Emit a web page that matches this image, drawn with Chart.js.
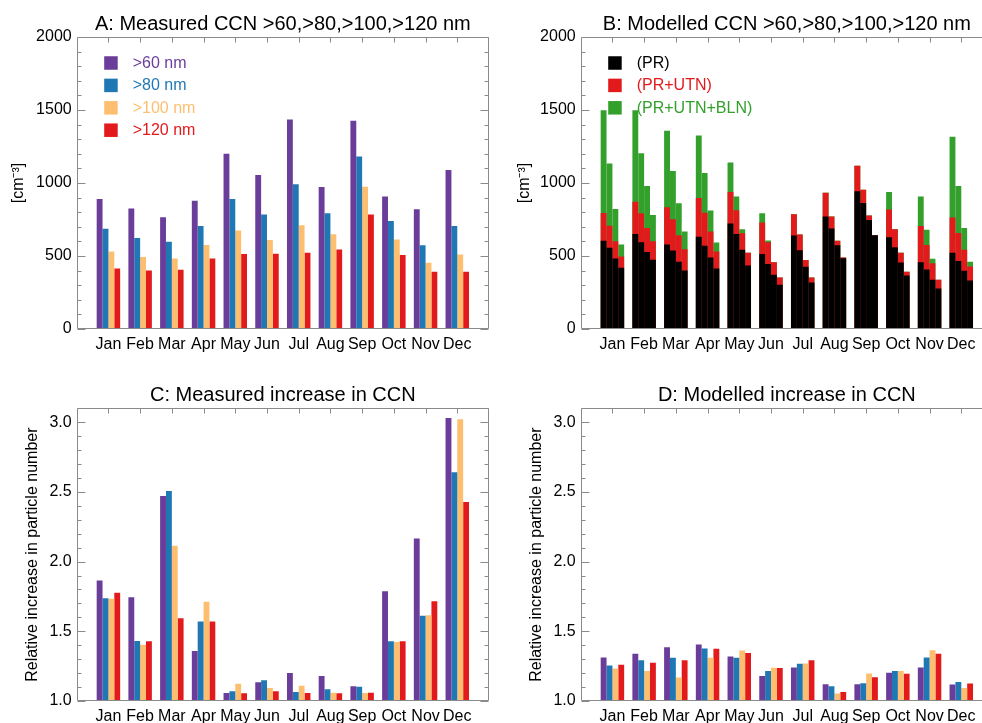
<!DOCTYPE html>
<html>
<head>
<meta charset="utf-8">
<script src="https://cdn.jsdelivr.net/npm/chart.js@4/dist/chart.umd.min.js"></script>
<style>
html, body { margin: 0; padding: 0; background: #ffffff; overflow: hidden; width: 982px; height: 723px; }
canvas { position: absolute; }
</style>
</head>
<body>
<canvas id="cA" width="500" height="361" style="left:0px;top:0px"></canvas>
<canvas id="cB" width="530" height="361" style="left:491px;top:0px"></canvas>
<canvas id="cC" width="500" height="372" style="left:0px;top:361px"></canvas>
<canvas id="cD" width="530" height="372" style="left:491px;top:361px"></canvas>
<script>
// ---------- categories ----------
const months = ['Jan', 'Feb', 'Mar', 'Apr', 'May', 'Jun', 'Jul', 'Aug', 'Sep', 'Oct', 'Nov', 'Dec'];
const axisLabels = [''].concat(months, ['']);
const sizeClasses = ['>60 nm', '>80 nm', '>100 nm', '>120 nm'];
const modelStages = ['(PR)', '(PR+UTN)', '(PR+UTN+BLN)'];

// ---------- A: measured CCN [cm-3] ----------
const measured60  = [891, 825, 765, 879, 1200, 1055, 1435, 973, 1426, 907, 820, 1089];
const measured80  = [686, 624, 597, 706, 891, 784, 991, 793, 1182, 740, 574, 706];
const measured100 = [531, 494, 483, 576, 674, 610, 711, 649, 975, 613, 453, 510];
const measured120 = [415, 401, 405, 483, 513, 515, 522, 544, 784, 506, 392, 392];

// ---------- B: modelled CCN [cm-3], cumulative totals ----------
const modelPR60   = [604, 651, 579, 631, 722, 513, 640, 770, 943, 629, 458, 522];
const modelPR80   = [556, 595, 538, 570, 651, 446, 540, 688, 863, 560, 408, 465];
const modelPR100  = [483, 528, 460, 490, 542, 371, 426, 574, 747, 456, 337, 399];
const modelPR120  = [419, 474, 401, 415, 435, 303, 319, 485, 642, 367, 278, 333];
const modelUTN60  = [795, 872, 834, 898, 939, 729, 786, 934, 1118, 818, 706, 763];
const modelUTN80  = [708, 793, 752, 797, 813, 595, 647, 770, 954, 683, 576, 658];
const modelUTN100 = [601, 692, 642, 667, 656, 458, 472, 604, 777, 522, 451, 542];
const modelUTN120 = [497, 601, 547, 531, 522, 353, 353, 490, 642, 392, 337, 428];
const modelBLN60  = [1499, 1499, 1358, 1326, 1141, 793, 786, 934, 1118, 939, 907, 1317];
const modelBLN80  = [1134, 1203, 1082, 1068, 907, 606, 647, 770, 954, 683, 679, 980];
const modelBLN100 = [822, 980, 861, 811, 683, 458, 472, 604, 777, 522, 481, 692];
const modelBLN120 = [579, 781, 667, 592, 522, 353, 353, 490, 642, 392, 337, 460];

// ---------- C: measured relative increase ----------
const measInc60  = [1.865, 1.745, 2.471, 1.358, 1.058, 1.135, 1.200, 1.180, 1.106, 1.788, 2.166, 3.031];
const measInc80  = [1.738, 1.430, 2.507, 1.570, 1.070, 1.149, 1.065, 1.084, 1.103, 1.428, 1.611, 2.642];
const measInc100 = [1.733, 1.404, 2.113, 1.712, 1.123, 1.094, 1.110, 1.060, 1.058, 1.423, 1.615, 3.022];
const measInc120 = [1.776, 1.428, 1.594, 1.570, 1.055, 1.070, 1.058, 1.055, 1.060, 1.428, 1.716, 2.428];

// ---------- D: modelled relative increase ----------
const modInc60  = [1.312, 1.339, 1.385, 1.406, 1.320, 1.180, 1.240, 1.120, 1.120, 1.202, 1.240, 1.118];
const modInc80  = [1.255, 1.293, 1.310, 1.377, 1.310, 1.216, 1.267, 1.106, 1.127, 1.216, 1.312, 1.137];
const modInc100 = [1.233, 1.216, 1.168, 1.310, 1.363, 1.238, 1.269, 1.053, 1.197, 1.216, 1.365, 1.094];
const modInc120 = [1.260, 1.274, 1.293, 1.375, 1.344, 1.236, 1.293, 1.065, 1.171, 1.195, 1.339, 1.125];

// ---------- styles ----------
const PURPLE = '#6a3d9a', BLUE = '#1f78b4', ORANGE = '#fdbf6f', RED = '#e31a1c', GREEN = '#33a02c', BLACK = '#000000';
const FRAME = '#8a8a8a';
const FONT = '"Liberation Sans", Arial, Helvetica, sans-serif';
const sizeColors = [PURPLE, BLUE, ORANGE, RED];
const stageColors = [BLACK, RED, GREEN];

Chart.defaults.font.family = FONT;
Chart.defaults.font.size = 16;
Chart.defaults.color = '#000000';

function series(arr) { return arr.map((v, i) => ({ x: months[i], y: v })); }

function sizeDatasets(arrs) {
  return arrs.map((arr, k) => ({ label: sizeClasses[k], data: series(arr), backgroundColor: sizeColors[k], borderWidth: 0 }));
}

const panelPlugin = {
  id: 'panel',
  afterDraw(chart, args, o) {
    const ctx = chart.ctx, a = chart.chartArea, xs = chart.scales.x, ys = chart.scales.y;
    const L = Math.round(a.left) + 0.5, R = Math.round(a.right) - 0.5;
    const T = Math.round(a.top) + 0.5, B = Math.round(a.bottom) - 0.5;
    ctx.save();
    ctx.strokeStyle = FRAME;
    ctx.lineWidth = 1;
    ctx.beginPath();
    ctx.rect(L, T, R - L, B - T);
    const n = Math.round((ys.max - ys.min) / o.minorStep);
    for (let k = 0; k <= n; k++) {
      const v = ys.min + k * o.minorStep;
      const r = v / o.majorStep;
      const len = Math.abs(r - Math.round(r)) < 1e-6 ? 8 : 4;
      const py = Math.round(ys.getPixelForValue(v)) + 0.5;
      ctx.moveTo(L, py); ctx.lineTo(L + len, py);
      ctx.moveTo(R, py); ctx.lineTo(R - len, py);
    }
    months.forEach((m) => {
      const px = Math.round(xs.getPixelForValue(axisLabels.indexOf(m))) + 0.5;
      ctx.moveTo(px, T); ctx.lineTo(px, T + 5);
    });
    ctx.stroke();
    // panel title
    ctx.fillStyle = '#000000';
    ctx.font = '20px ' + FONT;
    ctx.textAlign = 'center';
    ctx.textBaseline = 'alphabetic';
    ctx.fillText(o.title, (a.left + a.right) / 2, a.top - 7.5);
    // legend inside plot
    if (o.legend) {
      ctx.font = '16px ' + FONT;
      ctx.textAlign = 'left';
      ctx.textBaseline = 'middle';
      o.legend.forEach((it, k) => {
        const cy = a.top + 26 + k * 22.4;
        ctx.fillStyle = it.color;
        ctx.fillRect(a.left + 27.5, cy - 6.75, 13.5, 13.5);
        ctx.fillText(it.text, a.left + 56, cy + 0.5);
      });
    }
    ctx.restore();
  }
};

function makeChart(id, cfg) {
  return new Chart(document.getElementById(id), {
    type: 'bar',
    data: { labels: axisLabels, datasets: cfg.datasets },
    options: {
      responsive: false,
      animation: false,
      devicePixelRatio: 1,
      layout: { padding: cfg.padding },
      datasets: { bar: { categoryPercentage: 0.74, barPercentage: 1.0, borderWidth: 0 } },
      plugins: {
        legend: { display: false },
        tooltip: { enabled: false },
        title: { display: false },
        panel: { title: cfg.title, legend: cfg.legend, majorStep: cfg.step, minorStep: cfg.minor }
      },
      scales: {
        x: {
          type: 'category',
          offset: false,
          grid: { display: false, drawTicks: false },
          border: { display: false },
          ticks: { autoSkip: false, maxRotation: 0, minRotation: 0, padding: 6, font: { size: 16 } },
          afterFit: (s) => { s.height = cfg.xHeight; }
        },
        y: {
          type: 'linear',
          min: cfg.min,
          max: cfg.max,
          stacked: false,
          grid: { display: false, drawTicks: false },
          border: { display: false },
          ticks: {
            stepSize: cfg.step,
            includeBounds: false,
            padding: 5,
            font: { size: 16 },
            callback: (v) => cfg.decimals ? Number(v).toFixed(cfg.decimals) : String(v)
          },
          afterBuildTicks: (s) => {
            s.ticks = s.ticks.filter((t) => Math.abs(t.value / cfg.step - Math.round(t.value / cfg.step)) < 1e-6);
          },
          title: { display: true, text: cfg.yTitle, font: { size: 16 }, padding: { top: cfg.yTitlePad, bottom: 0 } },
          afterFit: (s) => { s.width = cfg.yWidth; }
        }
      }
    },
    plugins: [panelPlugin]
  });
}

const legendSizes = sizeClasses.map((t, k) => ({ text: t, color: sizeColors[k] }));
const legendStages = modelStages.map((t, k) => ({ text: t, color: stageColors[k] }));

// A
makeChart('cA', {
  title: 'A: Measured CCN >60,>80,>100,>120 nm',
  datasets: sizeDatasets([measured60, measured80, measured100, measured120]),
  legend: legendSizes,
  min: 0, max: 2000, step: 500, minor: 100, decimals: 0,
  yTitle: '[cm\u207B\u00B3]', yTitlePad: 9.4,
  padding: { top: 37, right: 11, bottom: 0, left: 0 },
  yWidth: 76.7, xHeight: 32
});

// B
const modelSets = [
  [modelPR60, modelPR80, modelPR100, modelPR120],
  [modelUTN60, modelUTN80, modelUTN100, modelUTN120],
  [modelBLN60, modelBLN80, modelBLN100, modelBLN120]
];
const datasetsB = [];
modelSets.forEach((group, s) => {
  group.forEach((arr, k) => {
    datasetsB.push({
      label: modelStages[s] + ' ' + sizeClasses[k],
      data: series(arr),
      backgroundColor: stageColors[s],
      borderWidth: 0,
      stack: 'size' + k
    });
  });
});
makeChart('cB', {
  title: 'B: Modelled CCN >60,>80,>100,>120 nm',
  datasets: datasetsB,
  legend: legendStages,
  min: 0, max: 2000, step: 500, minor: 100, decimals: 0,
  yTitle: '[cm\u207B\u00B3]', yTitlePad: 24.1,
  padding: { top: 37, right: 28, bottom: 0, left: 0 },
  yWidth: 89.7, xHeight: 32
});

// C
makeChart('cC', {
  title: 'C: Measured increase in CCN',
  datasets: sizeDatasets([measInc60, measInc80, measInc100, measInc120]),
  legend: null,
  min: 1.0, max: 3.1, step: 0.5, minor: 0.1, decimals: 1,
  yTitle: 'Relative increase in particle number', yTitlePad: 22.9,
  padding: { top: 47.3, right: 11, bottom: 0, left: 0 },
  yWidth: 76.7, xHeight: 32
});

// D
makeChart('cD', {
  title: 'D: Modelled increase in CCN',
  datasets: sizeDatasets([modInc60, modInc80, modInc100, modInc120]),
  legend: null,
  min: 1.0, max: 3.1, step: 0.5, minor: 0.1, decimals: 1,
  yTitle: 'Relative increase in particle number', yTitlePad: 36.4,
  padding: { top: 47.3, right: 28, bottom: 0, left: 0 },
  yWidth: 89.7, xHeight: 32
});
</script>
</body>
</html>
